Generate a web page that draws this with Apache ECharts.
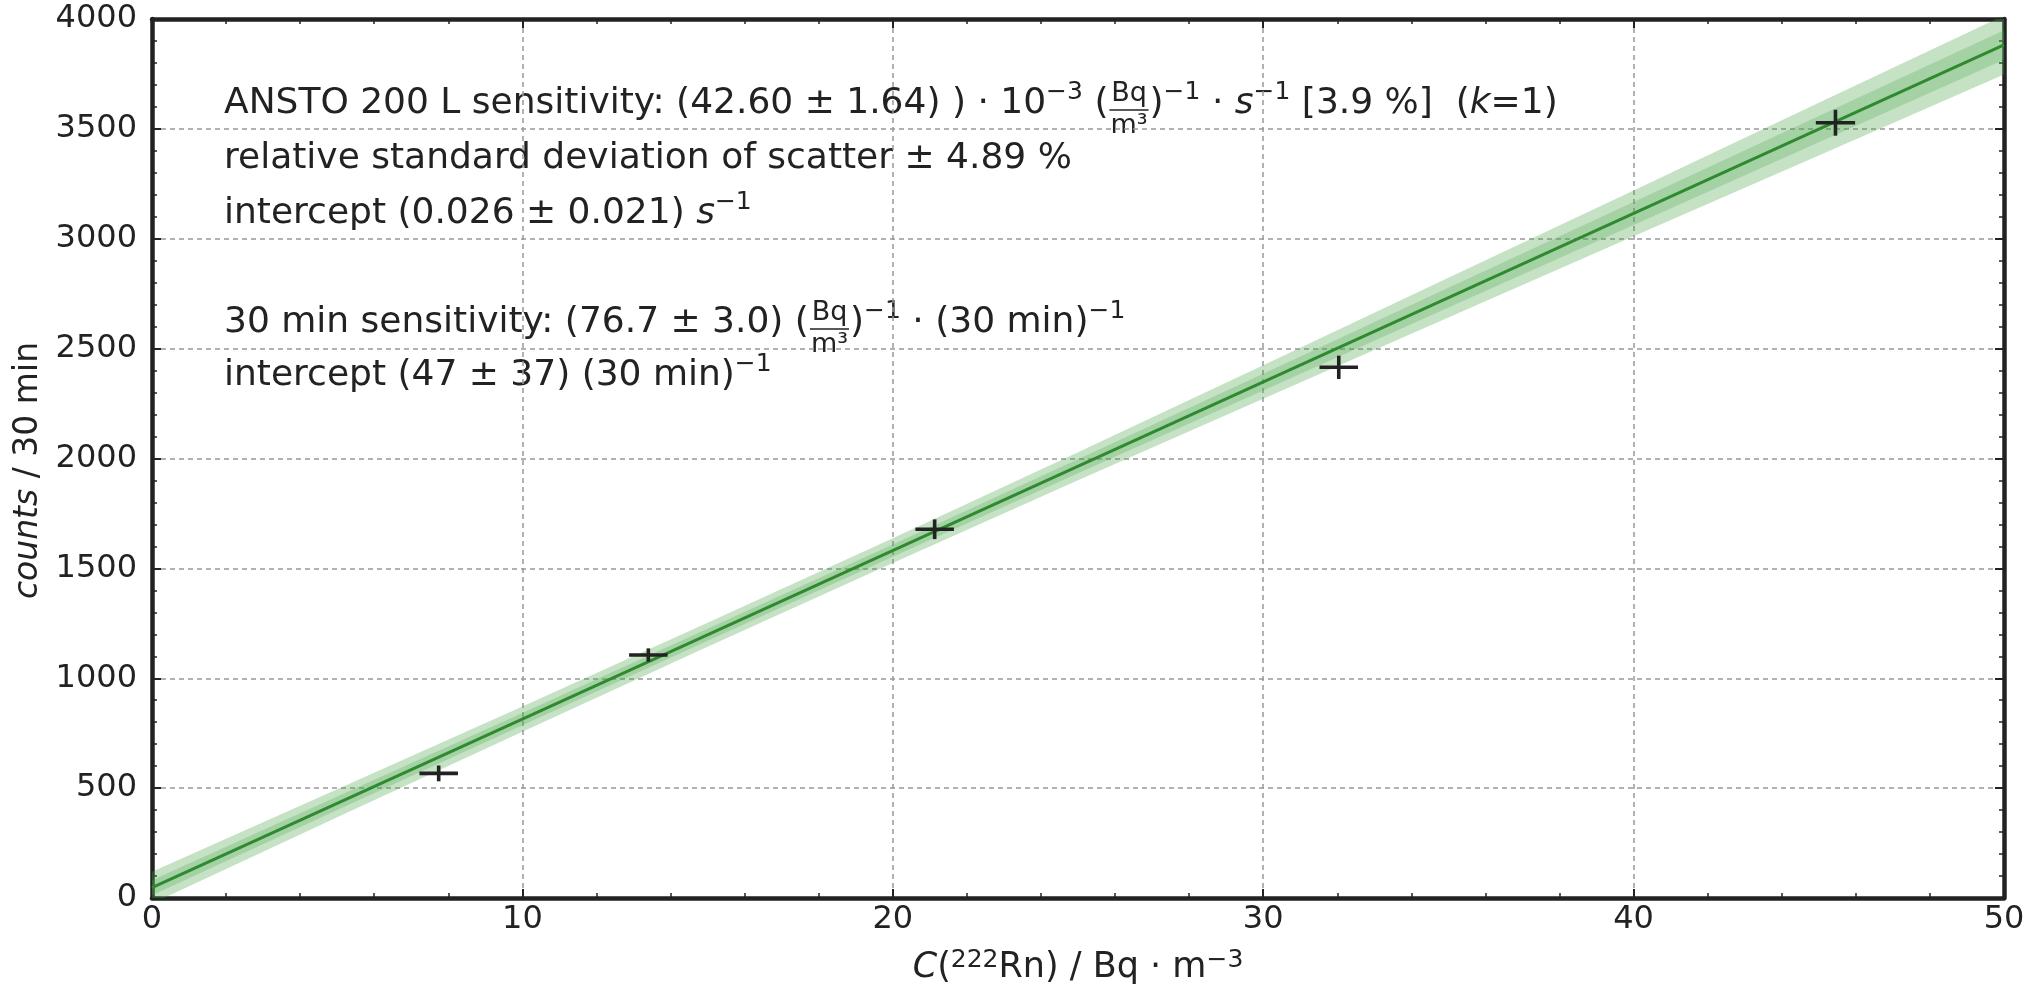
<!DOCTYPE html>
<html>
<head>
<meta charset="utf-8">
<script src="https://cdn.jsdelivr.net/npm/echarts@6/dist/echarts.min.js"></script>
<style>
    html, body { margin: 0; padding: 0; background: #fff; }
    #chart { width: 2031px; height: 990px; }
</style>
</head>
<body>
<div id="chart"></div>
<script>
// measured points (C in Bq/m3, counts per 30 min) with error bars
var pointX = [7.74, 13.40, 21.13, 32.04, 45.45];
var pointY = [567, 1106, 1678, 2415, 3528];
var pointXErr = [0.52, 0.52, 0.52, 0.52, 0.53];
var pointYErr = [36, 30, 45, 53, 59];

// fitted line end points
var fitX = [0, 50];
var fitY = [47, 3882];

// uncertainty bands around the fit
var bandX = [0, 5, 10, 15, 20, 25, 30, 35, 40, 45, 50];
var innerLo = [13, 400, 786, 1171, 1553, 1933, 2310, 2687, 3063, 3439, 3815];
var innerHi = [81, 462, 842, 1225, 1609, 1997, 2386, 2777, 3167, 3559, 3949];
var outerLo = [-25, 367, 756, 1143, 1525, 1901, 2272, 2642, 3011, 3379, 3748];
var outerHi = [119, 495, 872, 1253, 1637, 2029, 2424, 2822, 3219, 3619, 4016];

var FONT = '"DejaVu Sans", sans-serif';
var INK = '#222';
var MAIN = 36, SUP = 25, FRAC = 27;

var measureCtx = document.createElement('canvas').getContext('2d');
function textWidth(str, size, italic) {
    measureCtx.font = (italic ? 'italic ' : '') + size + 'px ' + FONT;
    return measureCtx.measureText(str).width;
}

function textEl(str, x, baseline, size, italic, align) {
    return {
        type: 'text',
        x: x,
        y: baseline - 0.32 * size,
        silent: true,
        style: {
            text: str,
            font: (italic ? 'italic ' : '') + size + 'px ' + FONT,
            fill: INK,
            align: align,
            textAlign: align,
            verticalAlign: 'middle',
            textVerticalAlign: 'middle'
        }
    };
}

// lays out one annotation line made of normal / italic / superscript / fraction pieces
function layoutLine(parts, left, baseline) {
    var els = [], x = left;
    parts.forEach(function(p) {
        if (p.frac) {
            var w = Math.max(textWidth(p.frac[0], FRAC), textWidth(p.frac[1], FRAC)) + 4;
            els.push(textEl(p.frac[0], x + w / 2, baseline - 12, FRAC, false, 'center'));
            els.push(textEl(p.frac[1], x + w / 2, baseline + 20, FRAC, false, 'center'));
            els.push({
                type: 'line',
                silent: true,
                shape: { x1: x + 1, y1: baseline - 5, x2: x + w - 1, y2: baseline - 5 },
                style: { stroke: INK, lineWidth: 1.6 }
            });
            x += w;
        } else {
            var size = p.sup ? SUP : MAIN;
            var base = p.sup ? baseline - 15 : baseline;
            els.push(textEl(p.t, x, base, size, p.it, 'left'));
            x += textWidth(p.t, size, p.it);
        }
    });
    return els;
}

var TEXT_LEFT = 224;
var annotations = [].concat(
    layoutLine([
        { t: 'ANSTO 200 L sensitivity: (42.60 \u00b1 1.64) ) \u00b7 10' },
        { t: '\u22123', sup: true },
        { t: ' (' }, { frac: ['Bq', 'm\u00b3'] }, { t: ')' },
        { t: '\u22121', sup: true },
        { t: ' \u00b7 ' }, { t: 's', it: true },
        { t: '\u22121', sup: true },
        { t: ' [3.9 %]  (' }, { t: 'k', it: true }, { t: '=1)' }
    ], TEXT_LEFT, 115),
    layoutLine([
        { t: 'relative standard deviation of scatter \u00b1 4.89 %' }
    ], TEXT_LEFT, 170),
    layoutLine([
        { t: 'intercept (0.026 \u00b1 0.021) ' }, { t: 's', it: true },
        { t: '\u22121', sup: true }
    ], TEXT_LEFT, 225),
    layoutLine([
        { t: '30 min sensitivity: (76.7 \u00b1 3.0) (' }, { frac: ['Bq', 'm\u00b3'] }, { t: ')' },
        { t: '\u22121', sup: true },
        { t: ' \u00b7 (30 min)' },
        { t: '\u22121', sup: true }
    ], TEXT_LEFT, 334),
    layoutLine([
        { t: 'intercept (47 \u00b1 37) (30 min)' },
        { t: '\u22121', sup: true }
    ], TEXT_LEFT, 387)
);

function bandRenderer(lo, hi, fill) {
    return function(params, api) {
        if (params.dataIndex !== 0) {
            return;
        }
        var pts = [], i;
        for (i = 0; i < bandX.length; i++) {
            pts.push(api.coord([bandX[i], hi[i]]));
        }
        for (i = bandX.length - 1; i >= 0; i--) {
            pts.push(api.coord([bandX[i], lo[i]]));
        }
        return {
            type: 'polygon',
            clipPath: {
                type: 'rect',
                shape: { x: params.coordSys.x, y: params.coordSys.y, width: params.coordSys.width, height: params.coordSys.height }
            },
            shape: { points: pts },
            style: { fill: fill }
        };
    };
}

function crossRenderer(params, api) {
    var x = api.value(0), y = api.value(1), xe = api.value(2), ye = api.value(3);
    var l = api.coord([x - xe, y]), r = api.coord([x + xe, y]);
    var t = api.coord([x, y + ye]), b = api.coord([x, y - ye]);
    var st = { stroke: INK, lineWidth: 3.6 };
    return {
        type: 'group',
        children: [
            { type: 'line', shape: { x1: l[0], y1: l[1], x2: r[0], y2: r[1] }, style: st },
            { type: 'line', shape: { x1: t[0], y1: t[1], x2: b[0], y2: b[1] }, style: st }
        ]
    };
}

function bandData(lo, hi) {
    return bandX.map(function(x, i) { return [x, lo[i], hi[i]]; });
}

var axisLine = { show: true, onZero: false, lineStyle: { color: INK, width: 4.5 } };
var axisTick = { show: true, inside: true, length: 9, lineStyle: { color: INK, width: 2 } };
var minorTick = { show: true, splitNumber: 5, length: 5, lineStyle: { color: INK, width: 1.5 } };
var labelStyle = { fontFamily: FONT, fontSize: 32, color: INK };
var gridLine = { show: true, lineStyle: { color: '#999', width: 1.5, type: [5, 4] } };

var xNameStyle = {
    fontFamily: FONT, fontSize: 35, color: INK,
    rich: {
        it: { fontFamily: FONT, fontSize: 35, fontStyle: 'italic', color: INK },
        n: { fontFamily: FONT, fontSize: 35, color: INK },
        sup: { fontFamily: FONT, fontSize: 25, color: INK, verticalAlign: 'top', padding: [0, 0, 14, 0] }
    }
};
var yNameStyle = {
    fontFamily: FONT, fontSize: 33, color: INK,
    padding: [0, 24, 0, 0],
    rich: {
        it: { fontFamily: FONT, fontSize: 33, fontStyle: 'italic', color: INK },
        n: { fontFamily: FONT, fontSize: 33, color: INK }
    }
};

var chart = echarts.init(document.getElementById('chart'), null, { renderer: 'canvas' });

var option = {
    animation: false,
    backgroundColor: '#fff',
    grid: { left: 152, right: 27, top: 19, bottom: 92, containLabel: false },
    xAxis: [
        {
            type: 'value', min: 0, max: 50, interval: 10, position: 'bottom',
            name: '{it|C}{n|(}{sup|222}{n|Rn) / Bq \u00b7 m}{sup|\u22123}',
            nameLocation: 'middle', nameGap: 50, nameTextStyle: xNameStyle,
            axisLine: axisLine, axisTick: axisTick, minorTick: minorTick,
            axisLabel: Object.assign({ margin: 6 }, labelStyle),
            splitLine: gridLine
        },
        {
            type: 'value', min: 0, max: 50, interval: 10, position: 'top',
            axisLine: axisLine, axisTick: axisTick, minorTick: minorTick,
            axisLabel: { show: false }, splitLine: { show: false }
        }
    ],
    yAxis: [
        {
            type: 'value', min: 0, max: 4000, interval: 500, position: 'left',
            name: '{it|counts}{n| / 30 min}',
            nameLocation: 'middle', nameGap: 106, nameRotate: 90, nameTextStyle: yNameStyle,
            axisLine: axisLine, axisTick: axisTick, minorTick: minorTick,
            axisLabel: Object.assign({
                margin: 15,
                formatter: function(v) { return String(v); }
            }, labelStyle),
            splitLine: gridLine
        },
        {
            type: 'value', min: 0, max: 4000, interval: 500, position: 'right',
            axisLine: axisLine, axisTick: axisTick, minorTick: minorTick,
            axisLabel: { show: false }, splitLine: { show: false }
        }
    ],
    graphic: annotations,
    series: [
        {
            type: 'custom', name: 'outer band',
            renderItem: bandRenderer(outerLo, outerHi, 'rgba(76,165,76,0.32)'),
            data: bandData(outerLo, outerHi),
            encode: { x: 0, y: [1, 2] },
            clip: true, silent: true, z: 2
        },
        {
            type: 'custom', name: 'inner band',
            renderItem: bandRenderer(innerLo, innerHi, 'rgba(76,165,76,0.27)'),
            data: bandData(innerLo, innerHi),
            encode: { x: 0, y: [1, 2] },
            clip: true, silent: true, z: 3
        },
        {
            type: 'line', name: 'fit',
            data: fitX.map(function(x, i) { return [x, fitY[i]]; }),
            symbol: 'none',
            lineStyle: { color: '#2f8a2f', width: 3 },
            silent: true, z: 4
        },
        {
            type: 'custom', name: 'measurements',
            renderItem: crossRenderer,
            data: pointX.map(function(x, i) { return [x, pointY[i], pointXErr[i], pointYErr[i]]; }),
            encode: { x: 0, y: 1 },
            silent: true, z: 5
        }
    ]
};

chart.setOption(option);
</script>
</body>
</html>
